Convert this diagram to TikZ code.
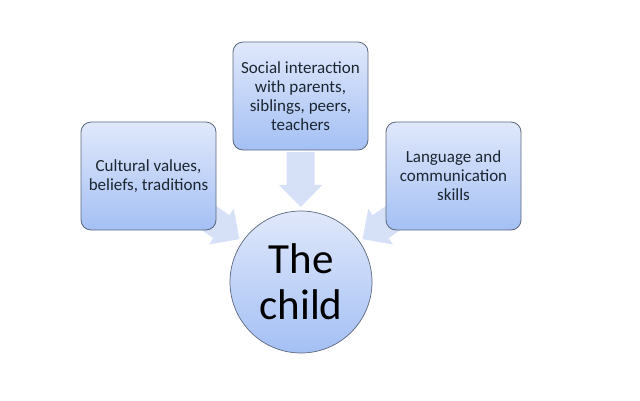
\documentclass[tikz,border=0pt]{standalone}
\usepackage{fontspec}
\setmainfont{Carlito}
\usetikzlibrary{calc,arrows.meta,backgrounds}
\definecolor{boxtop}{RGB}{224,232,251}
\definecolor{boxbot}{RGB}{164,192,244}
\definecolor{boxline}{RGB}{92,104,124}
\definecolor{arrowc}{RGB}{214,225,248}
\definecolor{txt}{RGB}{28,38,48}
\tikzset{
  infobox/.style={draw=boxline, line width=0.8pt, rounded corners=10pt,
    top color=boxtop, bottom color=boxbot, minimum width=135pt, minimum height=108pt,
    align=center, text=txt, font=\fontsize{17}{19}\selectfont},
  childnode/.style={circle, draw=boxline, line width=0.7pt, top color=boxtop,
    bottom color=boxbot, minimum size=142pt, align=center, inner sep=0pt,
    font=\fontsize{43}{46}\selectfont, text=black},
  fatarrow/.style={line width=28pt, draw=arrowc,
    -{Triangle[length=22pt,width=42pt,color=arrowc]}}
}
\begin{document}
\begin{tikzpicture}[x=1pt,y=-1pt]
\useasboundingbox (0,0) rectangle (640,400);
\node[childnode] (child) at (301,282) {The\\child};
\node[infobox] (left) at (148.5,176) {Cultural values,\\beliefs, traditions};
\node[infobox] (top) at (300.5,96) {Social interaction\\with parents,\\siblings, peers,\\teachers};
\node[infobox] (right) at (453.5,176) {Language and\\communication\\skills};
\begin{pgfonlayer}{background}
\draw[fatarrow] ($(child.center)!130pt!(top.center)$) -- ($(child.center)!75pt!(top.center)$);
\draw[fatarrow] ($(child.center)!128pt!(left.center)$) -- ($(child.center)!75pt!(left.center)$);
\draw[fatarrow] ($(child.center)!128pt!(right.center)$) -- ($(child.center)!75pt!(right.center)$);
\end{pgfonlayer}
\end{tikzpicture}
\end{document}
